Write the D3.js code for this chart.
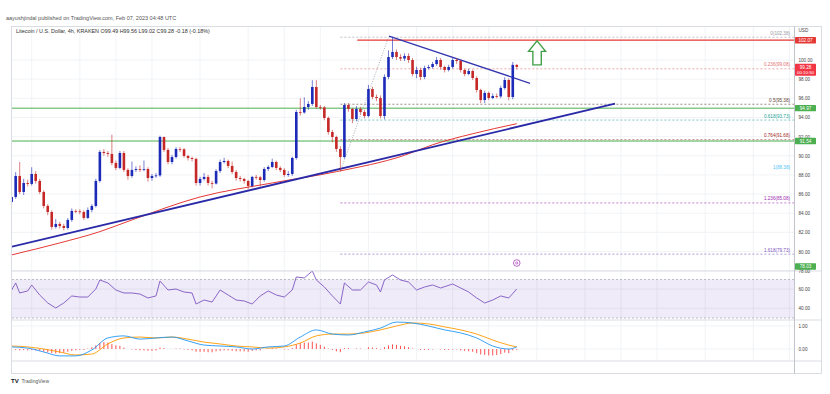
<!DOCTYPE html>
<html>
<head>
<meta charset="utf-8">
<script src="https://cdn.jsdelivr.net/npm/d3@7"></script>
<style>
  body { margin: 0; background: #fff; }
  svg { display: block; font-family: "Liberation Sans", Arial, sans-serif; }
</style>
</head>
<body>
<svg id="chart" width="830" height="394"></svg>
<script>
// ---- data (LTC/USD 4h, Kraken) ----
const firstOpen = 85.18;
const closes = [85.70,87.89,86.22,87.16,87.06,88.10,87.37,86.22,84.76,84.13,
  82.57,82.88,82.67,82.46,83.30,84.24,84.20,84.13,83.51,84.34,
  84.76,87.37,90.40,90.29,90.19,89.25,88.73,90.29,88.52,87.89,
  88.52,88.62,88.58,88.62,87.68,87.89,87.95,91.96,90.61,89.35,
  89.87,90.71,90.68,89.98,89.77,89.67,87.16,87.58,87.79,87.16,
  87.10,88.41,89.35,89.46,88.94,88.31,87.68,87.58,87.37,86.85,
  87.79,87.75,87.47,88.62,88.83,89.35,88.73,88.52,88.00,88.10,
  89.77,94.57,94.52,95.09,95.41,97.18,95.09,95.05,93.95,92.48,
  91.96,90.71,89.87,95.30,94.89,93.84,94.89,94.57,94.15,96.97,
  96.14,96.03,94.15,98.23,100.31,100.84,100.31,100.15,100.42,100.00,
  98.54,98.96,98.23,99.16,99.27,99.58,100.00,99.27,98.96,99.27,
  100.00,99.90,98.96,98.54,98.85,98.12,96.87,95.82,96.56,96.03,
  96.24,96.20,97.08,97.91,96.14,99.49,99.28];
const highs = [85.95,88.30,89.35,87.60,87.50,88.80,88.40,87.60,86.40,84.95,
  84.30,83.40,83.10,82.90,83.50,84.50,84.40,84.40,84.30,84.60,
  84.95,87.60,90.60,90.70,90.50,92.20,89.50,90.50,90.50,88.70,
  89.40,88.90,89.00,89.50,88.80,88.10,88.20,92.10,92.00,90.80,
  90.10,90.90,90.90,90.80,90.10,89.90,89.80,87.80,88.20,88.00,
  87.40,88.60,89.60,89.80,89.60,89.40,88.50,87.90,87.70,87.50,
  87.90,88.00,87.90,88.80,89.00,89.70,89.50,88.90,88.70,88.40,
  89.90,94.80,96.00,96.10,95.70,97.90,97.90,95.30,95.20,94.10,
  92.70,92.10,91.00,95.50,95.50,95.00,95.20,95.10,94.80,97.40,
  97.20,96.40,96.30,98.50,101.00,102.38,101.10,100.60,100.70,100.70,
  100.20,99.30,99.20,99.40,99.50,99.80,100.30,100.20,99.40,99.50,
  100.20,100.20,100.00,99.10,99.10,99.00,98.30,97.00,96.80,96.70,
  96.50,96.50,97.30,98.20,98.10,99.80,99.56];
const lows = [84.95,85.50,86.00,85.90,86.80,86.90,87.10,86.00,84.50,83.80,
  82.30,82.40,82.40,82.20,82.30,83.10,84.00,83.90,83.30,83.40,
  84.10,84.60,87.20,90.00,89.90,89.00,88.50,88.60,88.30,87.50,
  87.70,88.30,88.30,88.40,87.30,87.40,87.70,87.80,90.40,89.10,
  89.10,89.70,90.40,89.80,89.50,89.40,86.90,86.90,87.40,86.90,
  86.60,87.00,88.20,89.20,88.70,88.10,87.40,87.30,87.10,86.50,
  86.70,87.50,86.80,87.30,88.40,88.70,88.50,88.30,87.80,87.80,
  87.90,89.60,94.20,94.40,94.80,95.20,94.90,94.80,93.70,92.20,
  91.40,90.40,88.38,89.70,94.60,93.40,93.60,94.30,93.90,94.00,
  95.90,95.70,93.90,93.80,98.00,100.10,100.00,99.90,99.90,99.70,
  98.30,98.10,97.90,98.00,99.00,99.10,99.40,99.00,98.70,98.80,
  99.10,99.60,98.70,98.30,98.40,97.90,96.60,95.50,95.50,95.80,
  95.90,96.00,96.00,96.90,95.80,95.90,99.02];

// moving average (red) read at candle indexes
const maIdx = [0, 12, 22, 30, 47, 65, 81, 98, 105, 115, 126];
const maVal = [79.65, 80.90, 82.08, 83.30, 85.70, 87.16, 88.34, 90.05, 91.15, 92.30, 93.35];

// RSI read at candle indexes
const rsiIdx = [0,1,2,4,5,7,9,11,13,15,17,19,21,22,24,26,28,30,32,34,36,37,39,41,43,45,46,48,50,52,54,56,58,60,62,64,66,68,70,71,73,75,76,78,80,82,83,85,87,89,91,92,93,95,97,99,101,103,105,107,110,112,114,116,118,120,122,124,126];
const rsiVal = [59.1,66.4,56.0,58.1,64.3,53.9,45.6,40.4,45.6,52.9,51.8,51.8,60.1,69.5,66.4,59.1,56.0,56.0,54.9,50.8,52.9,68.4,59.1,60.1,57.0,56.0,44.5,48.7,46.6,59.1,53.9,48.7,47.7,44.5,52.9,58.1,53.9,51.8,59.1,72.6,71.6,78.8,69.5,62.2,52.9,44.5,66.4,59.1,59.1,67.4,64.3,57.0,69.5,74.7,69.5,67.4,59.1,62.2,64.3,61.2,65.3,61.2,57.0,50.8,45.6,48.7,52.9,50.8,60.1];

// MACD (12,26,9) read every 4 candles
const macdIdx = [0,4,8,12,16,20,24,28,32,36,40,44,48,52,56,60,64,68,72,76,80,84,88,92,96,100,104,108,112,116,120,124,126];
const macdVal = [0.09,0.04,-0.13,-0.30,-0.30,-0.04,0.48,0.57,0.43,0.48,0.52,0.35,0.17,0.13,0.09,0.00,0.09,0.13,0.52,0.83,0.65,0.61,0.74,0.91,1.17,1.13,1.00,0.83,0.70,0.48,0.13,0.00,0.09];
const signalVal = [0.13,0.09,0.00,-0.13,-0.26,-0.22,0.22,0.48,0.52,0.48,0.52,0.43,0.30,0.22,0.13,0.09,0.04,0.09,0.26,0.57,0.65,0.65,0.70,0.83,1.00,1.13,1.09,0.96,0.83,0.65,0.39,0.17,0.09];
const histVal = [-0.02,-0.04,-0.06,-0.05,-0.06,-0.04,-0.06,-0.08,
  -0.12,-0.15,-0.18,-0.2,-0.18,-0.16,-0.12,-0.08,
  -0.06,-0.04,-0.04,0.02,0.08,0.16,0.26,0.3,
  0.28,0.22,0.16,0.14,0.06,0.0,-0.02,-0.04,
  -0.06,-0.06,-0.08,-0.08,-0.06,0.06,0.04,0.0,
  0.0,0.02,0.02,-0.02,-0.04,-0.06,-0.12,-0.12,
  -0.12,-0.14,-0.14,-0.1,-0.08,-0.06,-0.06,-0.08,
  -0.1,-0.1,-0.1,-0.12,-0.08,-0.06,-0.06,0.0,
  0.02,0.04,0.02,0.0,-0.02,-0.02,0.04,0.2,
  0.26,0.28,0.28,0.32,0.24,0.18,0.1,0.02,
  -0.04,-0.1,-0.14,0.04,0.04,0.0,0.02,0.02,
  0.0,0.08,0.06,0.04,-0.02,0.08,0.16,0.2,
  0.18,0.14,0.12,0.08,0.02,0.0,-0.04,-0.04,
  -0.04,-0.02,0.0,-0.02,-0.04,-0.04,-0.02,-0.02,
  -0.06,-0.08,-0.1,-0.12,-0.18,-0.24,-0.26,-0.28,
  -0.28,-0.26,-0.22,-0.16,-0.18,-0.06,-0.04];

// fibonacci retracement levels
const fibRatio = ["0", "0.236", "0.5", "0.618", "0.764", "1", "1.236", "1.618"];
const fibPrice = [102.38, 99.08, 95.38, 93.73, 91.68, 88.38, 85.08, 79.73];
const fibColor = ["#9598a1", "#e57373", "#5d4037", "#26a69a", "#a52a2a", "#4fc3f7", "#9c27b0", "#7e57c2"];

// horizontal levels
const supportLevels = [94.97, 91.54];
const resistanceLevel = 102.07;

// axis ticks
const priceTicks = [78, 80, 82, 84, 86, 88, 90, 92, 94, 96, 98, 100];
const timeTicks = ["2023-01-18T00:00Z","2023-01-20T00:00Z","2023-01-21T12:00Z","2023-01-23T00:00Z","2023-01-25T00:00Z","2023-01-27T00:00Z","2023-01-28T12:00Z","2023-01-30T00:00Z","2023-02-01T00:00Z","2023-02-03T00:00Z","2023-02-04T12:00Z","2023-02-06T00:00Z","2023-02-08T00:00Z","2023-02-10T00:00Z","2023-02-11T12:00Z","2023-02-13T00:00Z","2023-02-15T00:00Z","2023-02-17T00:00Z","2023-02-18T12:00Z"];
const timeLabels = ["18","20","12:00","23","25","27","12:00","30","Feb","3","12:00","6","8","10","12:00","13","15","17","12:00"];

// ---- layout ----
const svg = d3.select("#chart");
const paneL = 12, paneR = 794.5, frameR = 821.5;
const mainTop = 26.5, mainBot = 271, rsiBot = 320, macdBot = 361, frameBot = 373.5;
const t0 = Date.UTC(2023, 0, 17, 4), H4 = 4 * 3600e3;
const tAt = i => new Date(t0 + i * H4);

const x = d3.scaleUtc()
  .domain([new Date(Date.UTC(2023, 0, 18)), new Date(Date.UTC(2023, 1, 17))])
  .range([31.7, 753.3]);
const y = d3.scaleLinear().domain([78, 100]).range([270.7, 60]);
const yR = d3.scaleLinear().domain([30, 70]).range([318, 279.5]);
const yM = d3.scaleLinear().domain([0, 1]).range([349, 326]);

const defs = svg.append("defs");
defs.append("clipPath").attr("id", "clipMain").append("rect")
  .attr("x", paneL).attr("y", mainTop).attr("width", paneR - paneL).attr("height", mainBot - mainTop);
defs.append("clipPath").attr("id", "clipLow").append("rect")
  .attr("x", paneL).attr("y", mainBot).attr("width", paneR - paneL).attr("height", macdBot - mainBot);

// header
svg.append("text").attr("x", 6).attr("y", 20).attr("font-size", 5.5).attr("fill", "#555")
  .text("aayushjindal published on TradingView.com, Feb 07, 2023 04:48 UTC");

// grid
const grid = svg.append("g");
grid.selectAll(".vg").data(timeTicks).join("line")
  .attr("x1", d => x(new Date(d))).attr("x2", d => x(new Date(d)))
  .attr("y1", mainTop).attr("y2", macdBot)
  .attr("stroke", "#eef0f4").attr("stroke-width", 0.8);
grid.selectAll(".hg").data(priceTicks).join("line")
  .attr("x1", paneL).attr("x2", paneR).attr("y1", d => y(d)).attr("y2", d => y(d))
  .attr("stroke", "#eef0f4").attr("stroke-width", 0.8);
grid.selectAll(".rg").data([40, 60]).join("line")
  .attr("x1", paneL).attr("x2", paneR).attr("y1", d => yR(d)).attr("y2", d => yR(d))
  .attr("stroke", "#eef0f4").attr("stroke-width", 0.8);
grid.selectAll(".mg").data([0, 1]).join("line")
  .attr("x1", paneL).attr("x2", paneR).attr("y1", d => yM(d)).attr("y2", d => yM(d))
  .attr("stroke", "#eef0f4").attr("stroke-width", 0.8);

// ---- main pane ----
const main = svg.append("g").attr("clip-path", "url(#clipMain)");

// fib levels
const fibLow = { t: tAt(82), p: 88.38 }, fibHigh = { t: tAt(95), p: 102.38 };
main.append("line")
  .attr("x1", x(fibLow.t)).attr("y1", y(fibLow.p)).attr("x2", x(fibHigh.t) - 4).attr("y2", y(fibHigh.p))
  .attr("stroke", "#9598a1").attr("stroke-width", 0.8).attr("stroke-dasharray", "1,1.5");
fibPrice.forEach((p, k) => {
  main.append("line").attr("x1", x(fibLow.t)).attr("x2", paneR)
    .attr("y1", y(p)).attr("y2", y(p))
    .attr("stroke", fibColor[k]).attr("stroke-width", 0.7).attr("stroke-dasharray", "2,2")
    .attr("opacity", k === 5 ? 0 : 0.85);
  main.append("text").attr("x", 790).attr("y", y(p) - 2.5).attr("text-anchor", "end")
    .attr("font-size", 4.6).attr("fill", fibColor[k])
    .text(`${fibRatio[k]}(${p.toFixed(2)})`);
});

// support lines
supportLevels.forEach(p => {
  main.append("line").attr("x1", paneL).attr("x2", paneR).attr("y1", y(p)).attr("y2", y(p))
    .attr("stroke", "#4caf50").attr("stroke-width", 1);
});
// resistance line
main.append("line").attr("x1", x(tAt(86.2))).attr("x2", paneR)
  .attr("y1", y(resistanceLevel)).attr("y2", y(resistanceLevel))
  .attr("stroke", "#e53935").attr("stroke-width", 1.3);

// moving average
main.append("path")
  .datum(maIdx.map((i, k) => [tAt(i), maVal[k]]))
  .attr("fill", "none").attr("stroke", "#e53935").attr("stroke-width", 1)
  .attr("d", d3.line().x(d => x(d[0])).y(d => y(d[1])).curve(d3.curveMonotoneX));

// trend lines
const upTrend = [["2023-01-17T04:20Z", 80.51], ["2023-02-11T06:00Z", 95.44]];
const downTrend = [["2023-02-01T20:30Z", 102.5], ["2023-02-07T17:15Z", 97.57]];
[[upTrend, 1.8, "#2a2aa8"], [downTrend, 1.3, "#3535b0"]].forEach(([pts, w, c]) => {
  main.append("line")
    .attr("x1", x(new Date(pts[0][0]))).attr("y1", y(pts[0][1]))
    .attr("x2", x(new Date(pts[1][0]))).attr("y2", y(pts[1][1]))
    .attr("stroke", c).attr("stroke-width", w);
});

// candles
const candles = closes.map((c, i) => ({
  t: tAt(i), o: i ? closes[i - 1] : firstOpen, c, h: highs[i], l: lows[i]
}));
const upC = "#1c2ab8", downC = "#c62828";
const cg = main.append("g");
cg.selectAll("line").data(candles).join("line")
  .attr("x1", d => x(d.t)).attr("x2", d => x(d.t))
  .attr("y1", d => y(d.h)).attr("y2", d => y(d.l))
  .attr("stroke", d => d.c >= d.o ? upC : downC).attr("stroke-width", 0.6);
cg.selectAll("rect").data(candles).join("rect")
  .attr("x", d => x(d.t) - 1.3).attr("width", 2.6)
  .attr("y", d => y(Math.max(d.o, d.c)))
  .attr("height", d => Math.max(0.8, Math.abs(y(d.o) - y(d.c))))
  .attr("fill", d => d.c >= d.o ? upC : downC);

// target arrow
const ax = x(new Date("2023-02-08T00:15Z")), ay = y(102.0);
main.append("path")
  .attr("d", `M${ax},${ay} l8.5,10.5 h-4.3 v13.5 h-8.4 v-13.5 h-4.3 z`)
  .attr("fill", "#fff").attr("stroke", "#43a047").attr("stroke-width", 1.4).attr("stroke-linejoin", "miter");

// event marker
const ev = main.append("g").attr("transform", `translate(${x(tAt(126))},${263})`);
ev.append("circle").attr("r", 3.3).attr("fill", "#fff").attr("stroke", "#9c27b0").attr("stroke-width", 0.7);
ev.append("circle").attr("r", 1.1).attr("fill", "none").attr("stroke", "#9c27b0").attr("stroke-width", 0.6);

// ---- RSI pane ----
const low = svg.append("g").attr("clip-path", "url(#clipLow)");
low.append("rect").attr("x", paneL).attr("width", paneR - paneL)
  .attr("y", yR(70)).attr("height", yR(30) - yR(70)).attr("fill", "#7e57c2").attr("opacity", 0.12);
[70, 30].forEach(v => low.append("line").attr("x1", paneL).attr("x2", paneR)
  .attr("y1", yR(v)).attr("y2", yR(v)).attr("stroke", "#9598a1").attr("stroke-width", 0.6)
  .attr("stroke-dasharray", "2,2"));
low.append("path")
  .datum(rsiIdx.map((i, k) => [tAt(i), rsiVal[k]]))
  .attr("fill", "none").attr("stroke", "#7e57c2").attr("stroke-width", 0.9)
  .attr("d", d3.line().x(d => x(d[0])).y(d => yR(d[1])));

// ---- MACD pane ----
low.selectAll(".hist").data(histVal).join("line")
  .attr("x1", (d, i) => x(tAt(i))).attr("x2", (d, i) => x(tAt(i)))
  .attr("y1", yM(0)).attr("y2", d => yM(d))
  .attr("stroke", "#ff5252").attr("stroke-width", 1);
low.append("path")
  .datum(macdIdx.map((i, k) => [tAt(i), signalVal[k]]))
  .attr("fill", "none").attr("stroke", "#ff9800").attr("stroke-width", 0.9)
  .attr("d", d3.line().x(d => x(d[0])).y(d => yM(d[1])).curve(d3.curveMonotoneX));
low.append("path")
  .datum(macdIdx.map((i, k) => [tAt(i), macdVal[k]]))
  .attr("fill", "none").attr("stroke", "#2196f3").attr("stroke-width", 0.9)
  .attr("d", d3.line().x(d => x(d[0])).y(d => yM(d[1])).curve(d3.curveMonotoneX));

// ---- frame and separators ----
const frame = svg.append("g").attr("fill", "none").attr("stroke", "#d1d4dc").attr("stroke-width", 0.8);
frame.append("rect").attr("x", 11.5).attr("y", mainTop).attr("width", frameR - 11.5).attr("height", frameBot - mainTop);
[mainBot, rsiBot, macdBot].forEach(v => frame.append("line").attr("x1", 11.5).attr("x2", frameR).attr("y1", v).attr("y2", v));
frame.append("line").attr("x1", paneR).attr("x2", paneR).attr("y1", mainTop).attr("y2", frameBot).attr("stroke", "#b2b5be");

// legend
svg.append("text").attr("x", 16).attr("y", 33).attr("font-size", 5.4).attr("fill", "#333")
  .text("Litecoin / U.S. Dollar, 4h, KRAKEN  O99.49 H99.56 L99.02 C99.28 -0.18 (-0.18%)");

// ---- axes ----
const xAxis = d3.axisBottom(x)
  .tickValues(timeTicks.map(d => new Date(d)))
  .tickFormat((d, i) => timeLabels[i]).tickSize(0).tickPadding(4);
const xg = svg.append("g").attr("transform", `translate(0,${macdBot})`).call(xAxis);
xg.select(".domain").remove();
xg.selectAll("text").attr("font-size", 4.6).attr("fill", "#444").attr("font-family", "Liberation Sans, Arial, sans-serif");
svg.append("defs").append("clipPath").attr("id", "clipX").append("rect")
  .attr("x", paneL).attr("y", macdBot).attr("width", paneR - paneL).attr("height", 12);
xg.attr("clip-path", "url(#clipX)");

const pAxis = d3.axisRight(y).tickValues(priceTicks).tickFormat(d => d.toFixed(2)).tickSize(0).tickPadding(4);
const pg = svg.append("g").attr("transform", `translate(${paneR},0)`).call(pAxis);
pg.select(".domain").remove();
pg.selectAll("text").attr("font-size", 4.6).attr("fill", "#444").attr("font-family", "Liberation Sans, Arial, sans-serif");

const rAxis = d3.axisRight(yR).tickValues([40, 60]).tickFormat(d => d.toFixed(2)).tickSize(0).tickPadding(4);
const rg = svg.append("g").attr("transform", `translate(${paneR},0)`).call(rAxis);
rg.select(".domain").remove();
rg.selectAll("text").attr("font-size", 4.6).attr("fill", "#444").attr("font-family", "Liberation Sans, Arial, sans-serif");

const mAxis = d3.axisRight(yM).tickValues([0, 1]).tickFormat(d => d.toFixed(2)).tickSize(0).tickPadding(4);
const mg = svg.append("g").attr("transform", `translate(${paneR},0)`).call(mAxis);
mg.select(".domain").remove();
mg.selectAll("text").attr("font-size", 4.6).attr("fill", "#444").attr("font-family", "Liberation Sans, Arial, sans-serif");

svg.append("text").attr("x", 798.5).attr("y", 32).attr("font-size", 4.6).attr("fill", "#444").text("USD");

// price tags
function tag(yc, color, label, sub) {
  const h = sub ? 12 : 6.4;
  const g = svg.append("g");
  g.append("rect").attr("x", paneR + 0.5).attr("y", yc - 3.2).attr("width", 21).attr("height", h)
    .attr("fill", color).attr("rx", 0.6);
  g.append("text").attr("x", paneR + 11).attr("y", yc + 1.7).attr("text-anchor", "middle")
    .attr("font-size", 4.6).attr("fill", "#fff").text(label);
  if (sub) g.append("text").attr("x", paneR + 11).attr("y", yc + 7.3).attr("text-anchor", "middle")
    .attr("font-size", 4.4).attr("fill", "#fff").text(sub);
}
tag(y(resistanceLevel), "#e53935", resistanceLevel.toFixed(2));
tag(y(closes[closes.length - 1]), "#f23645", closes[closes.length - 1].toFixed(2), "00:10:50");
supportLevels.forEach(p => tag(y(p), "#4caf50", p.toFixed(2)));
tag(Math.min(y(78.03), mainBot - 4.5), "#4caf50", "78.03");

// footer logo
svg.append("text").attr("x", 11).attr("y", 383).attr("font-size", 6).attr("font-weight", "bold")
  .attr("fill", "#131722").text("TV");
svg.append("text").attr("x", 21.5).attr("y", 383).attr("font-size", 5).attr("fill", "#555").text("TradingView");
</script>
</body>
</html>
